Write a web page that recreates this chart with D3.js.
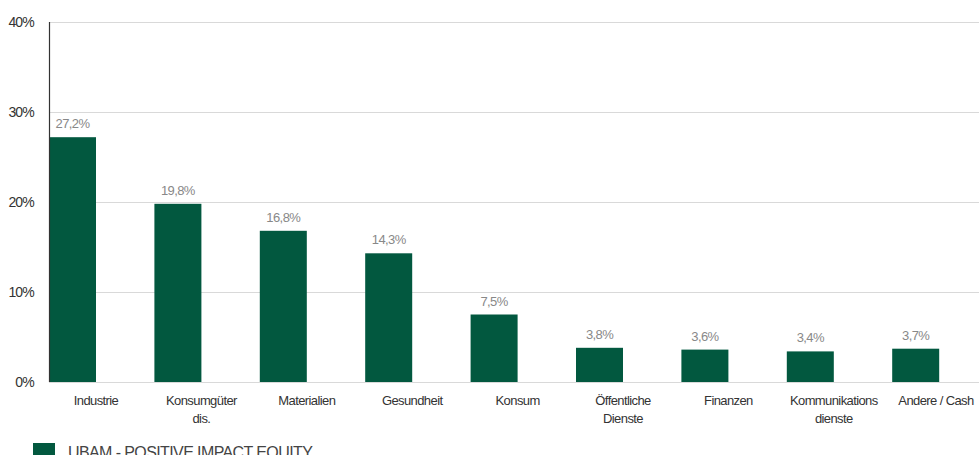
<!DOCTYPE html>
<html><head><meta charset="utf-8">
<script src="https://cdn.jsdelivr.net/npm/d3@7"></script>
<style>body{margin:0;background:#fff;overflow:hidden}svg{display:block}</style>
</head><body>
<svg id="c" width="979" height="455"></svg>
<script>
const categories = [["Industrie"],["Konsumgüter","dis."],["Materialien"],["Gesundheit"],["Konsum"],["Öffentliche","Dienste"],["Finanzen"],["Kommunikations","dienste"],["Andere / Cash"]];
const values = [27.2,19.8,16.8,14.3,7.5,3.8,3.6,3.4,3.7];
const valueLabels = ["27,2%","19,8%","16,8%","14,3%","7,5%","3,8%","3,6%","3,4%","3,7%"];
const yTicks = [0,10,20,30,40];
const seriesName = "UBAM - POSITIVE IMPACT EQUITY";

(function(){
const svg = d3.select("#c");
const pl = 49, pr = 979, pt = 22, pb = 382;
const font = "'Liberation Sans', Arial, sans-serif";
const y = d3.scaleLinear().domain([0,40]).range([pb, pt]);
const x = d3.scaleBand().domain(d3.range(categories.length)).range([pl, pl + 105.4*9]).paddingInner(0).paddingOuter(0);
const bw = 47;

svg.append("g").selectAll("line").data(yTicks).join("line")
  .attr("x1", pl).attr("x2", pr)
  .attr("y1", d => y(d)+0.5).attr("y2", d => y(d)+0.5)
  .attr("stroke", "#d9d9d9").attr("stroke-width", 1);

svg.append("g").selectAll("text").data(yTicks).join("text")
  .attr("x", 34).attr("y", d => y(d)+5)
  .attr("text-anchor", "end").attr("font-family", font).attr("font-size", 14)
  .attr("letter-spacing", "-0.8").attr("fill", "#333").text(d => d + "%");

svg.append("g").selectAll("rect").data(values).join("rect")
  .attr("x", (d,i) => x(i)).attr("y", d => y(d))
  .attr("width", bw).attr("height", d => y(0) - y(d))
  .attr("fill", "#02583F");

svg.append("g").selectAll("text").data(values).join("text")
  .attr("x", (d,i) => x(i) + bw/2).attr("y", d => y(d) - 9)
  .attr("text-anchor", "middle").attr("font-family", font).attr("font-size", 13)
  .attr("letter-spacing", "-0.6").attr("fill", "#888").text((d,i) => valueLabels[i]);

svg.append("line").attr("x1", pl+0.5).attr("x2", pl+0.5).attr("y1", pt).attr("y2", pb)
  .attr("stroke", "#333").attr("stroke-width", 1.2);

const xl = svg.append("g").selectAll("text").data(categories).join("text")
  .attr("text-anchor", "middle").attr("font-family", font).attr("font-size", 13)
  .attr("letter-spacing", "-0.6").attr("fill", "#333");
xl.each(function(d,i){
  const t = d3.select(this);
  d.forEach((line,j) => t.append("tspan").attr("x", i===8 ? 936 : x(i)+bw).attr("y", 405 + j*18).text(line));
});

svg.append("rect").attr("x", 33).attr("y", 443).attr("width", 22).attr("height", 15).attr("fill", "#02583F");
svg.append("text").attr("x", 68).attr("y", 458).attr("font-family", font).attr("font-size", 16)
  .attr("letter-spacing", "-0.6").attr("fill", "#444").text(seriesName);
})();
</script>
</body></html>
